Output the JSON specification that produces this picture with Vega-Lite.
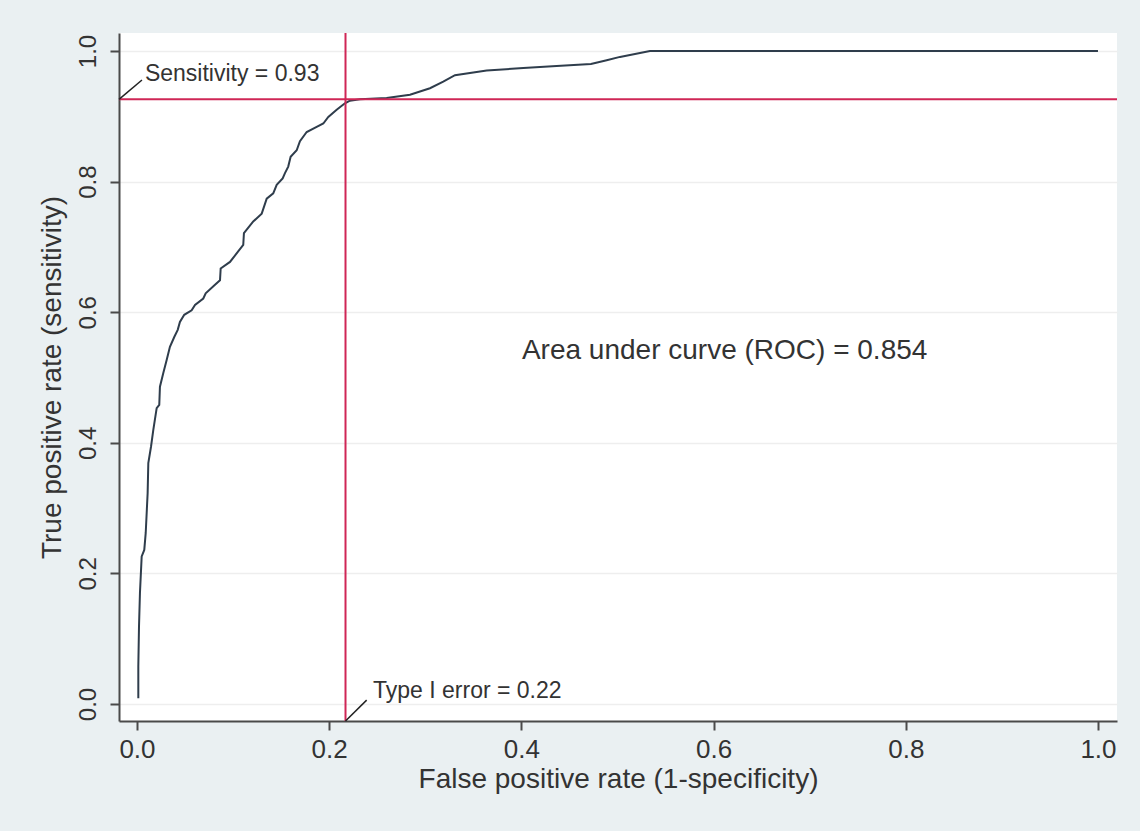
{
  "$schema": "https://vega.github.io/schema/vega-lite/v6.json",
  "width": 998,
  "height": 688,
  "autosize": {"type": "none"},
  "padding": {"left": 119, "top": 33, "right": 23, "bottom": 110},
  "background": "#eaf0f2",
  "view": {"fill": "white", "stroke": null},
  "config": {
    "font": "Liberation Sans",
    "axis": {
      "domainColor": "#4a4a4a",
      "domainWidth": 2,
      "tickColor": "#4a4a4a",
      "tickWidth": 2,
      "tickSize": 9,
      "labelColor": "#333333",
      "titleColor": "#333333",
      "titleFontWeight": "normal",
      "titleFontSize": 28,
      "labelFont": "Liberation Sans",
      "titleFont": "Liberation Sans"
    }
  },
  "datasets": {
    "roc": [
      {"x": 0.0014, "y": 0.0087}, {"x": 0.0014, "y": 0.057}, {"x": 0.0021, "y": 0.118},
      {"x": 0.0031, "y": 0.170}, {"x": 0.0049, "y": 0.226}, {"x": 0.0076, "y": 0.236},
      {"x": 0.0091, "y": 0.262}, {"x": 0.0111, "y": 0.323}, {"x": 0.0118, "y": 0.369},
      {"x": 0.0146, "y": 0.394}, {"x": 0.0170, "y": 0.420}, {"x": 0.0205, "y": 0.453},
      {"x": 0.0232, "y": 0.458}, {"x": 0.0239, "y": 0.486}, {"x": 0.0274, "y": 0.507},
      {"x": 0.0309, "y": 0.527}, {"x": 0.0343, "y": 0.547}, {"x": 0.0388, "y": 0.562},
      {"x": 0.0424, "y": 0.573}, {"x": 0.0447, "y": 0.585}, {"x": 0.0492, "y": 0.596},
      {"x": 0.0569, "y": 0.603}, {"x": 0.0604, "y": 0.611}, {"x": 0.0690, "y": 0.621},
      {"x": 0.0715, "y": 0.629}, {"x": 0.0812, "y": 0.642}, {"x": 0.0864, "y": 0.649},
      {"x": 0.0871, "y": 0.667}, {"x": 0.0968, "y": 0.677}, {"x": 0.1037, "y": 0.690},
      {"x": 0.1106, "y": 0.703}, {"x": 0.1113, "y": 0.721}, {"x": 0.1210, "y": 0.739},
      {"x": 0.1298, "y": 0.751}, {"x": 0.1350, "y": 0.774}, {"x": 0.1418, "y": 0.782},
      {"x": 0.1454, "y": 0.795}, {"x": 0.1516, "y": 0.805}, {"x": 0.1540, "y": 0.813},
      {"x": 0.1574, "y": 0.823}, {"x": 0.1599, "y": 0.838}, {"x": 0.1662, "y": 0.848},
      {"x": 0.1696, "y": 0.862}, {"x": 0.1766, "y": 0.876}, {"x": 0.1870, "y": 0.884},
      {"x": 0.1939, "y": 0.889}, {"x": 0.1991, "y": 0.899}, {"x": 0.2078, "y": 0.910},
      {"x": 0.2164, "y": 0.920}, {"x": 0.2216, "y": 0.924}, {"x": 0.2320, "y": 0.926},
      {"x": 0.2598, "y": 0.928}, {"x": 0.2841, "y": 0.933}, {"x": 0.3049, "y": 0.943},
      {"x": 0.3187, "y": 0.953}, {"x": 0.3309, "y": 0.963}, {"x": 0.3639, "y": 0.970},
      {"x": 0.4020, "y": 0.974}, {"x": 0.4367, "y": 0.977}, {"x": 0.4724, "y": 0.980},
      {"x": 0.4888, "y": 0.986}, {"x": 0.5026, "y": 0.991}, {"x": 0.5338, "y": 1.0},
      {"x": 1.0, "y": 1.0}
    ],
    "cutoff": [{"sens": 0.926, "fpr": 0.217}],
    "leaders": [
      {"x": -0.0187, "y": 0.926, "x2": 0.0052, "y2": 0.9556},
      {"x": 0.217, "y": -0.026, "x2": 0.239, "y2": 0.006}
    ],
    "labels": [
      {"x": 0.0083, "y": 0.954, "label": "Sensitivity = 0.93"},
      {"x": 0.2456, "y": 0.009, "label": "Type I error = 0.22"}
    ],
    "auc": [{"x": 0.4006, "y": 0.54, "label": "Area under curve (ROC) = 0.854"}]
  },
  "layer": [
    {
      "data": {"name": "roc"},
      "mark": {"type": "line", "color": "#2f3d4c", "strokeWidth": 2, "interpolate": "linear"},
      "encoding": {
        "x": {
          "field": "x", "type": "quantitative",
          "scale": {"domain": [-0.0187, 1.0198], "nice": false, "zero": false},
          "axis": {
            "title": "False positive rate (1-specificity)",
            "values": [0, 0.2, 0.4, 0.6, 0.8, 1.0],
            "format": ".1f",
            "labelFontSize": 26,
            "labelPadding": 6,
            "titlePadding": 3,
            "grid": false
          }
        },
        "y": {
          "field": "y", "type": "quantitative",
          "scale": {"domain": [-0.026, 1.0276], "nice": false, "zero": false},
          "axis": {
            "title": "True positive rate (sensitivity)",
            "values": [0, 0.2, 0.4, 0.6, 0.8, 1.0],
            "format": ".1f",
            "labelFontSize": 24,
            "labelAngle": -90,
            "labelPadding": 10,
            "titlePadding": 10,
            "grid": true,
            "gridColor": "#eeeeee",
            "gridWidth": 1.5
          }
        }
      }
    },
    {
      "data": {"name": "cutoff"},
      "mark": {"type": "rule", "color": "#cf2656", "strokeWidth": 2},
      "encoding": {"y": {"field": "sens", "type": "quantitative"}}
    },
    {
      "data": {"name": "cutoff"},
      "mark": {"type": "rule", "color": "#cf2656", "strokeWidth": 2},
      "encoding": {"x": {"field": "fpr", "type": "quantitative"}}
    },
    {
      "data": {"name": "leaders"},
      "mark": {"type": "rule", "color": "#222222", "strokeWidth": 1.5},
      "encoding": {
        "x": {"field": "x", "type": "quantitative"},
        "y": {"field": "y", "type": "quantitative"},
        "x2": {"field": "x2"},
        "y2": {"field": "y2"}
      }
    },
    {
      "data": {"name": "labels"},
      "mark": {"type": "text", "align": "left", "baseline": "alphabetic", "fontSize": 23, "color": "#333333", "font": "Liberation Sans"},
      "encoding": {
        "x": {"field": "x", "type": "quantitative"},
        "y": {"field": "y", "type": "quantitative"},
        "text": {"field": "label"}
      }
    },
    {
      "data": {"name": "auc"},
      "mark": {"type": "text", "align": "left", "baseline": "middle", "fontSize": 28, "color": "#333333", "font": "Liberation Sans"},
      "encoding": {
        "x": {"field": "x", "type": "quantitative"},
        "y": {"field": "y", "type": "quantitative"},
        "text": {"field": "label"}
      }
    }
  ]
}
